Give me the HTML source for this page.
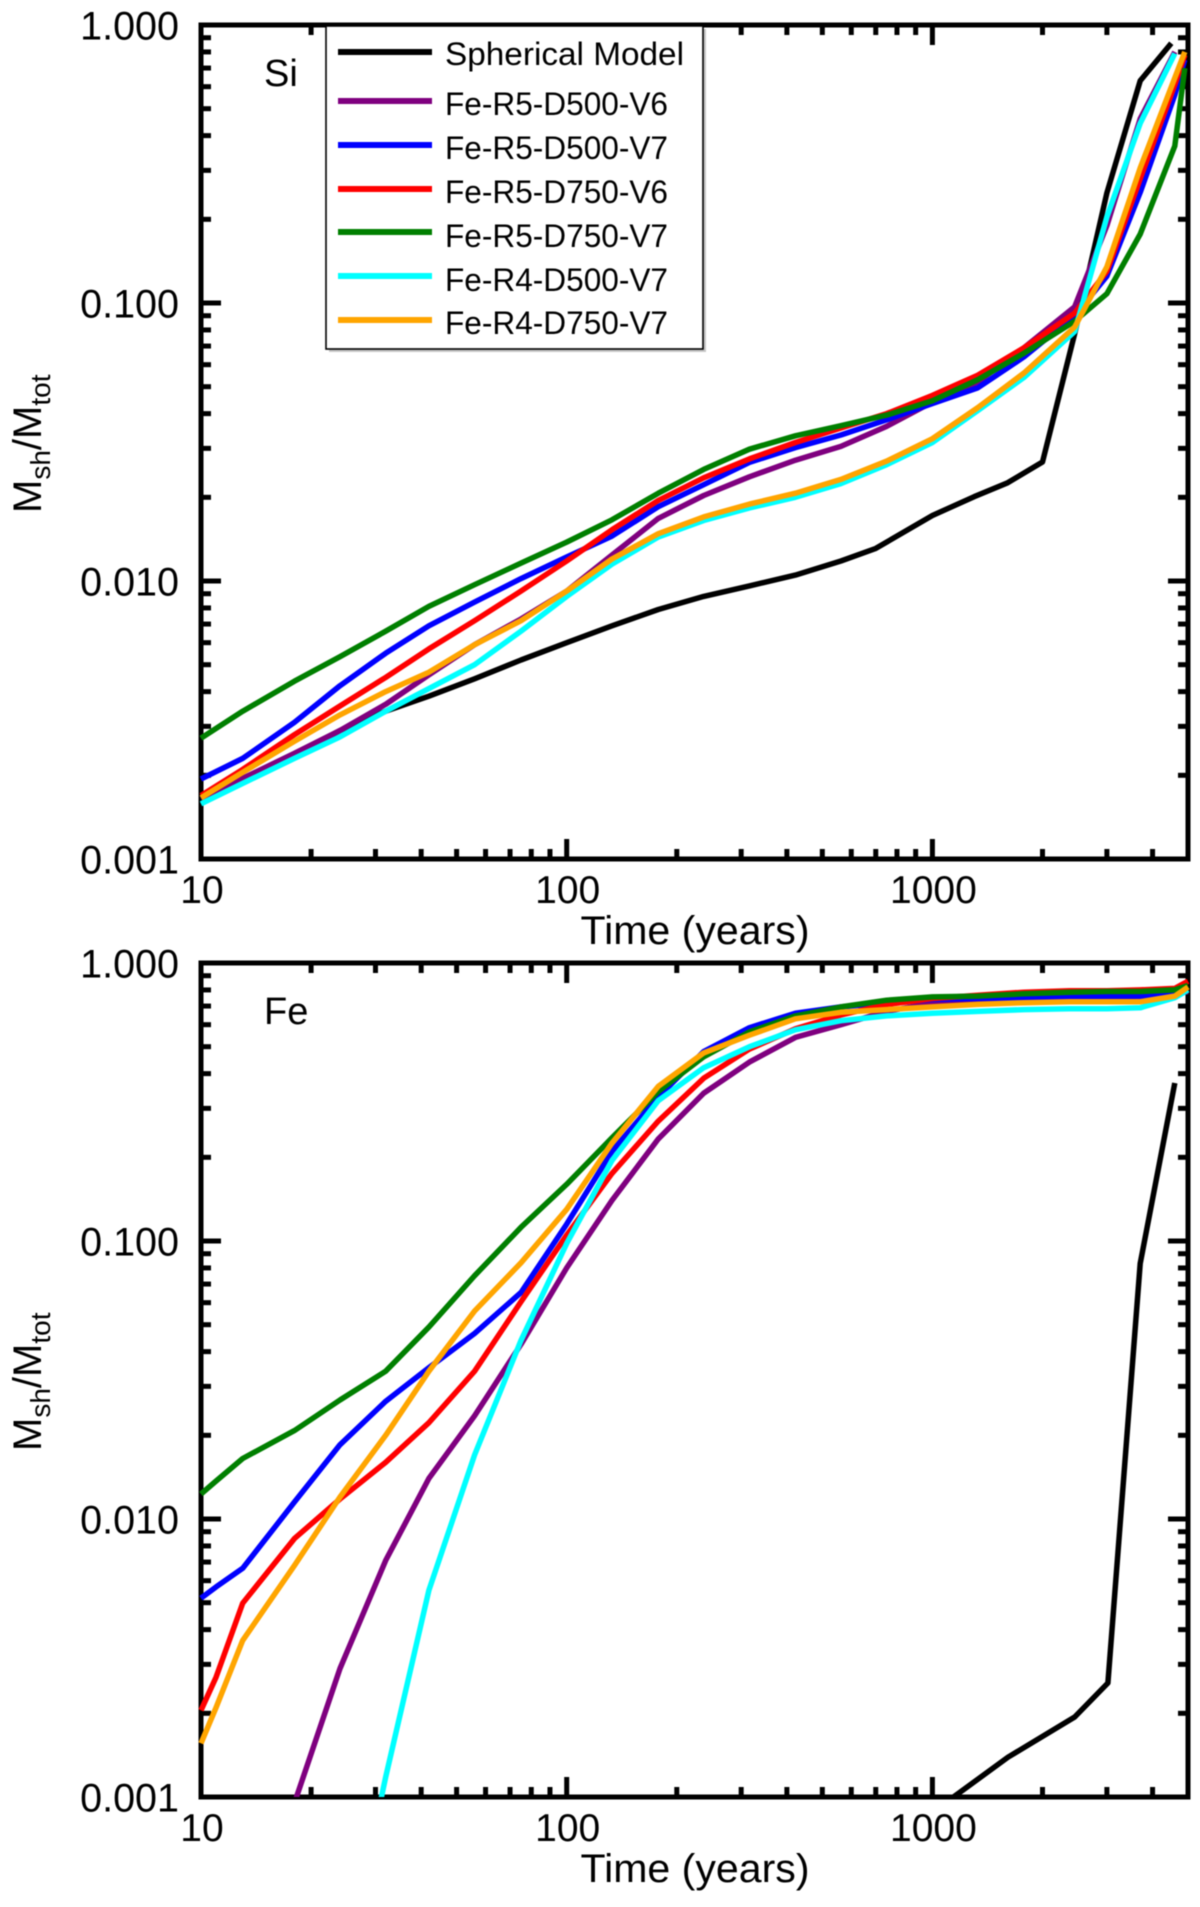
<!DOCTYPE html>
<html lang="en">
<head>
<meta charset="utf-8">
<title>Shocked mass fraction versus time</title>
<style>
html,body{margin:0;padding:0;background:#fff;}
svg{display:block;filter:blur(0.5px);}
text{font-family:"Liberation Sans",Arial,sans-serif;fill:#000;}
</style>
</head>
<body>
<svg id="figure" xmlns="http://www.w3.org/2000/svg" width="1200" height="1907" viewBox="0 0 1200 1907">
  <rect x="0" y="0" width="1200" height="1907" fill="#fff"/>
  <g id="panel-si"></g>
  <g id="panel-fe"></g>
  <g>
    <rect x="329" y="29" width="377" height="323" fill="#999" opacity="0.55"/>
    <rect x="326" y="26" width="377" height="323" fill="#fff" stroke="#000" stroke-width="1.6"/>
    <g>
      <line x1="338" x2="432" y1="52" y2="52" stroke="#000" stroke-width="6"/>
      <text x="445" y="65" font-size="32" textLength="239" lengthAdjust="spacingAndGlyphs">Spherical Model</text>
    </g>
    <g>
      <line x1="338" x2="432" y1="101" y2="101" stroke="#7f007f" stroke-width="6"/>
      <text x="445" y="115" font-size="32" textLength="223" lengthAdjust="spacingAndGlyphs">Fe-R5-D500-V6</text>
    </g>
    <g>
      <line x1="338" x2="432" y1="145" y2="145" stroke="#0000ff" stroke-width="6"/>
      <text x="445" y="159" font-size="32" textLength="223" lengthAdjust="spacingAndGlyphs">Fe-R5-D500-V7</text>
    </g>
    <g>
      <line x1="338" x2="432" y1="189" y2="189" stroke="#ff0000" stroke-width="6"/>
      <text x="445" y="203" font-size="32" textLength="223" lengthAdjust="spacingAndGlyphs">Fe-R5-D750-V6</text>
    </g>
    <g>
      <line x1="338" x2="432" y1="232" y2="232" stroke="#007f00" stroke-width="6"/>
      <text x="445" y="247" font-size="32" textLength="223" lengthAdjust="spacingAndGlyphs">Fe-R5-D750-V7</text>
    </g>
    <g>
      <line x1="338" x2="432" y1="276" y2="276" stroke="#00ffff" stroke-width="6"/>
      <text x="445" y="291" font-size="32" textLength="223" lengthAdjust="spacingAndGlyphs">Fe-R4-D500-V7</text>
    </g>
    <g>
      <line x1="338" x2="432" y1="320" y2="320" stroke="#ffa500" stroke-width="6"/>
      <text x="445" y="334" font-size="32" textLength="223" lengthAdjust="spacingAndGlyphs">Fe-R4-D750-V7</text>
    </g>
  </g>
</svg>
<script>
// Axis tick data
var xMajorTicks = [10, 100, 1000];
var xMajorLabels = ['10', '100', '1000'];
var xMinorTicks = [20, 30, 40, 50, 60, 70, 80, 90, 200, 300, 400, 500, 600, 700, 800, 900, 2000, 3000, 4000];
var yMajorTicks = [1, 0.1, 0.01, 0.001];
var yMajorLabels = ['1.000', '0.100', '0.010', '0.001'];
var yMinorTicks = [0.9, 0.8, 0.7, 0.6, 0.5, 0.4, 0.3, 0.2, 0.09, 0.08, 0.07, 0.06, 0.05, 0.04, 0.03, 0.02, 0.009, 0.008, 0.007, 0.006, 0.005, 0.004, 0.003, 0.002];

// Si panel data
var siTimes = [10, 13, 18, 24, 32, 42, 56, 75, 100, 133, 178, 237, 316, 422, 562, 750, 1000, 1330, 1780, 2450, 3000, 3700, 4600, 4900];
var siPurple = [0.00165, 0.00195, 0.0024, 0.0029, 0.0036, 0.0046, 0.0059, 0.0073, 0.0092, 0.0124, 0.0168, 0.0203, 0.0237, 0.0272, 0.0305, 0.036, 0.044, 0.052, 0.069, 0.097, 0.19, 0.46, 0.8];
var siBlue = [0.00194, 0.0023, 0.0031, 0.0042, 0.0055, 0.0069, 0.0084, 0.0102, 0.0122, 0.0145, 0.0185, 0.0222, 0.0267, 0.0302, 0.0335, 0.038, 0.0435, 0.0495, 0.064, 0.09, 0.125, 0.25, 0.56, 0.75];
var siRed = [0.00169, 0.0021, 0.0028, 0.00355, 0.0045, 0.0057, 0.0072, 0.0092, 0.0118, 0.0153, 0.0195, 0.0235, 0.0275, 0.0315, 0.0355, 0.04, 0.0465, 0.055, 0.069, 0.092, 0.13, 0.28, 0.61, 0.78];
var siGreen = [0.00272, 0.0034, 0.00436, 0.00534, 0.0066, 0.0081, 0.0097, 0.0116, 0.0138, 0.0166, 0.0207, 0.0252, 0.0298, 0.0333, 0.0362, 0.0395, 0.0445, 0.053, 0.066, 0.086, 0.108, 0.177, 0.367, 0.7];
var siCyan = [0.00158, 0.00187, 0.0023, 0.00275, 0.0034, 0.0041, 0.005, 0.0066, 0.0088, 0.0115, 0.0144, 0.0165, 0.0183, 0.02, 0.0224, 0.0262, 0.0315, 0.041, 0.054, 0.079, 0.204, 0.443, 0.79];
var siOrange = [0.00166, 0.00205, 0.00265, 0.0033, 0.004, 0.0047, 0.0059, 0.0072, 0.0092, 0.012, 0.0148, 0.017, 0.0189, 0.0207, 0.0232, 0.027, 0.0325, 0.042, 0.056, 0.082, 0.135, 0.306, 0.645, 0.8];
var siBlackTimes = [10, 13, 18, 24, 32, 42, 56, 75, 100, 133, 178, 237, 316, 422, 562, 700, 1000, 1300, 1600, 2000, 2450, 3000, 3700, 4500];
var siBlack = [0.0016, 0.00195, 0.00235, 0.0029, 0.0034, 0.00385, 0.00445, 0.0052, 0.006, 0.0069, 0.0079, 0.0088, 0.0096, 0.0105, 0.0118, 0.0131, 0.0172, 0.0201, 0.0225, 0.0268, 0.0776, 0.249, 0.63, 0.86];

// Fe panel data
var feTimes = [10, 11, 13, 18, 24, 32, 42, 56, 75, 100, 133, 178, 237, 316, 422, 562, 750, 1000, 1330, 1780, 2370, 3000, 3700, 4600, 5000];
var fePurple = [null, null, null, 0.00095, 0.0029, 0.0071, 0.014, 0.0235, 0.0425, 0.08, 0.14, 0.233, 0.34, 0.44, 0.54, 0.6, 0.67, 0.72, 0.72, 0.73, 0.75, 0.755, 0.76, 0.77, 0.79];
var feBlue = [0.00519, 0.0057, 0.00665, 0.0115, 0.0185, 0.0265, 0.035, 0.0465, 0.0653, 0.115, 0.21, 0.33, 0.48, 0.585, 0.66, 0.695, 0.72, 0.74, 0.745, 0.75, 0.755, 0.76, 0.76, 0.77, 0.8];
var feRed = [0.00205, 0.0027, 0.00498, 0.0085, 0.0118, 0.016, 0.0222, 0.034, 0.0605, 0.105, 0.175, 0.27, 0.385, 0.49, 0.58, 0.65, 0.71, 0.745, 0.765, 0.785, 0.795, 0.795, 0.8, 0.81, 0.86];
var feGreen = [0.0123, 0.0137, 0.0165, 0.0208, 0.0268, 0.034, 0.049, 0.075, 0.112, 0.16, 0.235, 0.345, 0.46, 0.565, 0.645, 0.695, 0.735, 0.755, 0.76, 0.775, 0.785, 0.79, 0.79, 0.8, 0.83];
var feCyan = [null, null, null, null, 0.0002, 0.00118, 0.00554, 0.017, 0.0439, 0.098, 0.195, 0.32, 0.42, 0.5, 0.575, 0.62, 0.645, 0.66, 0.67, 0.68, 0.685, 0.685, 0.69, 0.75, 0.8];
var feOrange = [0.00156, 0.0021, 0.00366, 0.0068, 0.012, 0.02, 0.034, 0.056, 0.0835, 0.13, 0.225, 0.36, 0.475, 0.55, 0.63, 0.665, 0.68, 0.695, 0.71, 0.72, 0.725, 0.725, 0.725, 0.76, 0.82];
var feBlackTimes = [1000, 1610, 2450, 3020, 3700, 4600];
var feBlack = [0.00088, 0.00139, 0.00194, 0.00257, 0.083, 0.37];

var SVG_NS = 'http://www.w3.org/2000/svg';
var PLOT_LEFT = 201;
var PLOT_RIGHT = 1188;
var X_DECADE = 365.7;
var Y_DECADE = 278;

function xScale(t) {
  return PLOT_LEFT + (Math.log10(t) - 1) * X_DECADE;
}
function makeYScale(bottom) {
  return function (v) {
    return bottom - (Math.log10(v) + 3) * Y_DECADE;
  };
}
function make(tag, parent, attrs, content) {
  var node = document.createElementNS(SVG_NS, tag);
  for (var k in attrs) { node.setAttribute(k, attrs[k]); }
  if (content !== undefined) { node.textContent = content; }
  parent.appendChild(node);
  return node;
}
function tickSeg(parent, x1, y1, x2, y2, w) {
  return make('line', parent, {x1: x1, y1: y1, x2: x2, y2: y2, stroke: '#000', 'stroke-width': w});
}

function drawAxes(group, top, bottom, yScale) {
  var frame = make('rect', group, {x: PLOT_LEFT, y: top, width: PLOT_RIGHT - PLOT_LEFT, height: bottom - top, fill: 'none', stroke: '#000', 'stroke-width': 5});
  
  
  var lenMajor = 20, lenMinor = 10, w = 5;
  xMajorTicks.forEach(function (t, i) {
    var x = xScale(t);
    var a = tickSeg(group, x, bottom, x, bottom - lenMajor, w);
    
    
    var b = tickSeg(group, x, top, x, top + lenMajor, w);
    
    
    var lab = make('text', group, {x: x + 1, y: bottom + 44, 'font-size': 39, 'text-anchor': 'middle'}, xMajorLabels[i]);
    
    
  });
  xMinorTicks.forEach(function (t) {
    var x = xScale(t);
    var a = tickSeg(group, x, bottom, x, bottom - lenMinor, w);
    
    
    var b = tickSeg(group, x, top, x, top + lenMinor, w);
    
    
  });
  yMajorTicks.forEach(function (v, i) {
    var y = yScale(v);
    var a = tickSeg(group, PLOT_LEFT, y, PLOT_LEFT + lenMajor, y, w);
    
    
    var b = tickSeg(group, PLOT_RIGHT, y, PLOT_RIGHT - lenMajor, y, w);
    
    
    var lab = make('text', group, {x: 179, y: y + 14.5, 'font-size': 39.5, 'text-anchor': 'end'}, yMajorLabels[i]);
    
    
  });
  yMinorTicks.forEach(function (v) {
    var y = yScale(v);
    var a = tickSeg(group, PLOT_LEFT, y, PLOT_LEFT + lenMinor, y, w);
    
    
    var b = tickSeg(group, PLOT_RIGHT, y, PLOT_RIGHT - lenMinor, y, w);
    
    
  });
}

function drawSeries(group, clipId, times, values, color, yScale) {
  var d = '';
  values.forEach(function (v, i) {
    if (v === null) { return; }
    d += (d ? 'L' : 'M') + xScale(times[i]).toFixed(1) + ' ' + yScale(v).toFixed(1);
  });
  return make('path', group, {d: d, fill: 'none', stroke: color, 'stroke-width': 5.5, 'stroke-linejoin': 'round', 'clip-path': 'url(#' + clipId + ')'});
}

function drawTitles(group, bottom, elementLabel, labelY) {
  var tx = make('text', group, {x: 695, y: bottom + 85, 'font-size': 40, 'text-anchor': 'middle', textLength: 229, lengthAdjust: 'spacingAndGlyphs'}, 'Time (years)');
  
  
  var ty = make('text', group, {transform: 'translate(41 ' + (bottom - 346) + ') rotate(-90)', 'font-size': 40, 'text-anchor': 'start'});
  
  
  make('tspan', ty, {}, 'M');
  make('tspan', ty, {'font-size': 28, dy: 9}, 'sh');
  make('tspan', ty, {dy: -9}, '/M');
  make('tspan', ty, {'font-size': 28, dy: 9}, 'tot');
  var lab = make('text', group, {x: 264, y: labelY, 'font-size': 38}, elementLabel);
  
  
}

function drawPanel(groupId, clipId, top, bottom, elementLabel, labelY, seriesList) {
  var group = document.getElementById(groupId);
  var yScale = makeYScale(bottom);
  var defs = make('defs', group, {});
  var clip = make('clipPath', defs, {id: clipId});
  make('rect', clip, {x: PLOT_LEFT - 3, y: top - 3, width: PLOT_RIGHT - PLOT_LEFT + 6, height: bottom - top + 3});
  drawAxes(group, top, bottom, yScale);
  drawTitles(group, bottom, elementLabel, labelY);
  seriesList.forEach(function (s) {
    var line = drawSeries(group, clipId, s.times, s.values, s.color, yScale);
    
    
  });
}

drawPanel('panel-si', 'clip-si', 25, 859, 'Si', 86, [
  {name: 'si-line-spherical-model', times: siBlackTimes, values: siBlack, color: '#000'},
  {name: 'si-line-fe-r5-d500-v6', times: siTimes, values: siPurple, color: '#7f007f'},
  {name: 'si-line-fe-r5-d500-v7', times: siTimes, values: siBlue, color: '#0000ff'},
  {name: 'si-line-fe-r5-d750-v6', times: siTimes, values: siRed, color: '#ff0000'},
  {name: 'si-line-fe-r5-d750-v7', times: siTimes, values: siGreen, color: '#007f00'},
  {name: 'si-line-fe-r4-d500-v7', times: siTimes, values: siCyan, color: '#00ffff'},
  {name: 'si-line-fe-r4-d750-v7', times: siTimes, values: siOrange, color: '#ffa500'}
]);
drawPanel('panel-fe', 'clip-fe', 963, 1797, 'Fe', 1024, [
  {name: 'fe-line-spherical-model', times: feBlackTimes, values: feBlack, color: '#000'},
  {name: 'fe-line-fe-r5-d500-v6', times: feTimes, values: fePurple, color: '#7f007f'},
  {name: 'fe-line-fe-r5-d500-v7', times: feTimes, values: feBlue, color: '#0000ff'},
  {name: 'fe-line-fe-r5-d750-v6', times: feTimes, values: feRed, color: '#ff0000'},
  {name: 'fe-line-fe-r4-d500-v7', times: feTimes, values: feCyan, color: '#00ffff'},
  {name: 'fe-line-fe-r5-d750-v7', times: feTimes, values: feGreen, color: '#007f00'},
  {name: 'fe-line-fe-r4-d750-v7', times: feTimes, values: feOrange, color: '#ffa500'}
]);
</script>
</body>
</html>
